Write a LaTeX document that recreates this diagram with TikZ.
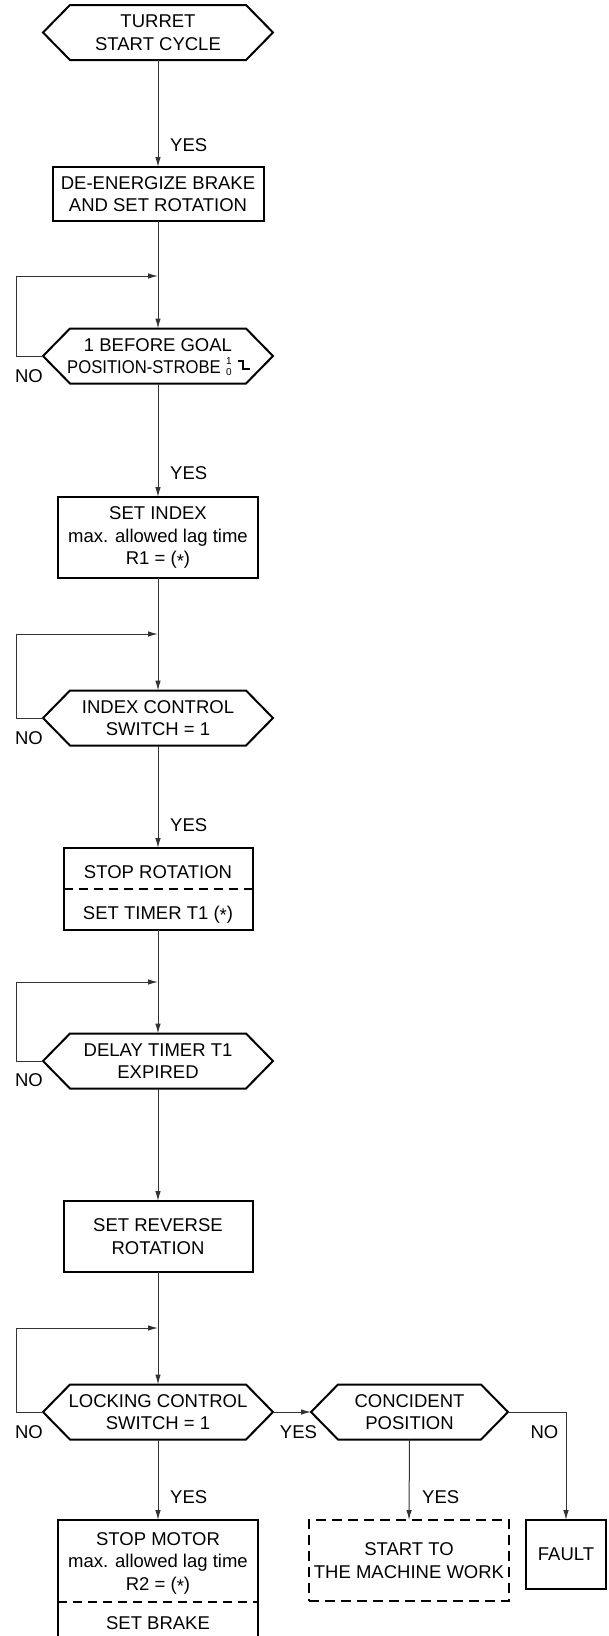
\documentclass[tikz,border=0pt]{standalone}
\usepackage{fontspec}
\setmainfont{Liberation Sans}
\usetikzlibrary{arrows.meta,calc}
\tikzset{
  base/.style={font=\fontsize{18.5}{22.5}\selectfont, align=center, inner sep=0pt, outer sep=0pt},
  hexa/.style={base, minimum height=55pt},
  box/.style={base, draw, line width=2pt, rectangle},
  dashbox/.style={box, dash pattern=on 10pt off 6pt},
  conn/.style={draw=black!80, line width=1pt, -{Latex[length=10pt,width=5.5pt]}},
  lbl/.style={font=\fontsize{18.5}{22}\selectfont, inner sep=0pt},
  hexline/.style={line width=2pt, line join=miter},
  divider/.style={line width=2pt, dash pattern=on 9pt off 6pt},
}
\newcommand\hexdraw[2]{%
  \draw[hexline] (#1.west) -- ([xshift=#2]#1.north west) -- ([xshift=-#2]#1.north east)
    -- (#1.east) -- ([xshift=-#2]#1.south east) -- ([xshift=#2]#1.south west) -- cycle;}
\newcommand\astk{\raisebox{-0.3ex}{*}}
\begin{document}
\begin{tikzpicture}[x=1pt,y=-1pt]
\useasboundingbox (0,0) rectangle (608,1636);
\clip (0,0) rectangle (608,1636);

% nodes
\node[hexa, minimum width=230pt] (start) at (158,32.5) {TURRET\\START CYCLE};
\hexdraw{start}{27pt}
\node[box, minimum width=211pt, minimum height=54pt] (b1) at (158,194) {DE-ENERGIZE BRAKE\\AND SET ROTATION};

\node[hexa, minimum width=230pt] (h2) at (158,356) {1 BEFORE GOAL\\\scalebox{0.9}[1]{POSITION-STROBE}\hspace*{28pt}};
\hexdraw{h2}{27pt}
\node[inner sep=0pt, font=\fontsize{10}{10}\selectfont] (s1) at ($(h2.center)+(71,5)$) {1};
\node[inner sep=0pt, font=\fontsize{10}{10}\selectfont] (s0) at ($(h2.center)+(71,16)$) {0};
\draw[line width=2.2pt] ($(h2.center)+(80,5)$) -- ++(5,0) -- ++(0,8) -- ++(7,0);

\node[box, minimum width=200pt, minimum height=81pt] (b2) at (158,537.5) {SET INDEX\\max. allowed lag time\\R1 = (\astk)};

\node[hexa, minimum width=230pt] (h3) at (158,718) {INDEX CONTROL\\SWITCH = 1};
\hexdraw{h3}{27pt}

\node[box, minimum width=189pt, minimum height=82pt] (b3) at (158,889) {};
\node[base, anchor=base] (b3a) at (158,878) {STOP ROTATION};
\node[base, anchor=base] (b3b) at (158,919) {SET TIMER T1 (\astk)};
\draw[divider] (b3.west) -- (b3.east);

\node[hexa, minimum width=230pt] (h4) at (158,1061) {DELAY TIMER T1\\EXPIRED};
\hexdraw{h4}{27pt}

\node[box, minimum width=189pt, minimum height=71pt] (b4) at (158,1236.5) {SET REVERSE\\ROTATION};

\node[hexa, minimum width=230pt] (h5) at (158,1412) {LOCKING CONTROL\\SWITCH = 1};
\hexdraw{h5}{27pt}
\node[hexa, minimum width=197pt] (h6) at (409.5,1412) {CONCIDENT\\POSITION};
\hexdraw{h6}{27pt}

\node[box, minimum width=200pt, minimum height=140pt, anchor=north] (b5) at (158,1520) {};
\node[base] (b5a) at (158,1563) {STOP MOTOR\\max. allowed lag time\\R2 = (\astk)};
\coordinate (d5l) at (58,1602);
\coordinate (d5r) at (258,1602);
\draw[divider] (d5l) -- (d5r);
\node[base, anchor=base] (b5b) at (158,1629) {SET BRAKE};

\node[dashbox, minimum width=200pt, minimum height=81pt] (st) at (409,1560.5) {START TO\\THE MACHINE WORK};
\node[box, minimum width=80pt, minimum height=69pt] (fault) at (566,1554.5) {FAULT};

% connectors
\coordinate (j2) at (158,276);
\coordinate (j3) at (158,634);
\coordinate (j4) at (158,982);
\coordinate (j5) at (158,1328);

\draw[conn] (start.south) -- (b1.north);
\draw[conn] (b1.south) -- (h2.north);
\draw[conn] (h2.west) -- ++(-27,0) |- (j2);
\draw[conn] (h2.south) -- (b2.north);
\draw[conn] (b2.south) -- (h3.north);
\draw[conn] (h3.west) -- ++(-27,0) |- (j3);
\draw[conn] (h3.south) -- (b3.north);
\draw[conn] (b3.south) -- (h4.north);
\draw[conn] (h4.west) -- ++(-27,0) |- (j4);
\draw[conn] (h4.south) -- (b4.north);
\draw[conn] (b4.south) -- (h5.north);
\draw[conn] (h5.west) -- ++(-27,0) |- (j5);
\draw[conn] (h5.south) -- (b5.north);
\draw[conn] (h5.east) -- (h6.west);
\draw[conn] (h6.south) -- (st.north);
\draw[conn] (h6.east) -| (fault.north);

% labels
\node[lbl, anchor=west] (y1) at (170,145) {YES};
\node[lbl, anchor=west] (y2) at (170,473) {YES};
\node[lbl, anchor=west] (y3) at (170,825) {YES};
\node[lbl, anchor=west] (y5) at (170,1497) {YES};
\node[lbl, anchor=west] (y6) at (422,1497) {YES};
\node[lbl] (ym) at (298.5,1432) {YES};
\node[lbl] (n2) at (29,376) {NO};
\node[lbl] (n3) at (29,738) {NO};
\node[lbl] (n4) at (29,1080) {NO};
\node[lbl] (n5) at (29,1432) {NO};
\node[lbl] (nr) at (544.5,1432) {NO};
\end{tikzpicture}
\end{document}
